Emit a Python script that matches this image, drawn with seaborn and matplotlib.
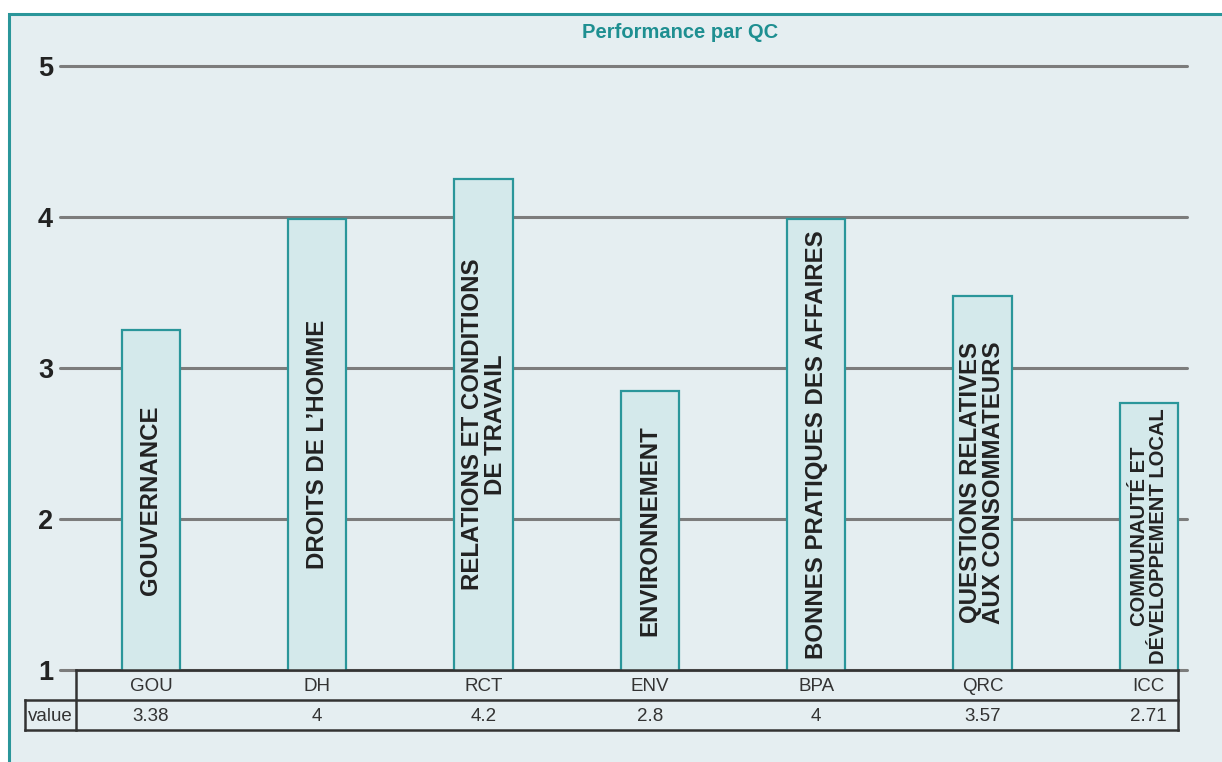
import matplotlib
matplotlib.use("Agg")
import matplotlib.pyplot as plt
import seaborn as sns
import pandas as pd
from matplotlib.patches import Rectangle
from matplotlib.transforms import blended_transform_factory

# ---------------- data ----------------
codes = ["GOU", "DH", "RCT", "ENV", "BPA", "QRC", "ICC"]
names = [
    "GOUVERNANCE",
    "DROITS DE L’HOMME",
    "RELATIONS ET CONDITIONS\nDE TRAVAIL",
    "ENVIRONNEMENT",
    "BONNES PRATIQUES DES AFFAIRES",
    "QUESTIONS RELATIVES\nAUX CONSOMMATEURS",
    "COMMUNAUTÉ ET\nDÉVELOPPEMENT LOCAL",
]
bar_heights = [3.25, 3.99, 4.25, 2.85, 3.99, 3.48, 2.77]
table_values = ["3.38", "4", "4.2", "2.8", "4", "3.57", "2.71"]
y_ticks = [1, 2, 3, 4, 5]
title = "Performance par QC"
row_header = "value"

# label font sizes (style)
label_sizes = [17.3, 17.3, 17.3, 17.3, 17.3, 17.3, 14.5]

# ---------------- style ----------------
BG = "#E5EEF1"
BAR = "#D4E9EB"
TEAL = "#2A969A"
TITLE_C = "#1E8F91"
GRID = "#7C7C7C"
DARK = "#222222"
LINE = "#333333"

sns.set_style("white")
FONT = ["Liberation Sans", "DejaVu Sans"]
plt.rcParams["font.family"] = FONT

W, H = 1222, 762
fig = plt.figure(figsize=(W / 100, H / 100), dpi=100, facecolor="white")
frame = Rectangle((8.5 / W, -0.1), 1.2, (H - 14) / H + 0.1,
                  transform=fig.transFigure, facecolor=BG,
                  edgecolor=TEAL, linewidth=2.2, zorder=-10)
fig.patches.append(frame)

ax = fig.add_axes([60 / W, 92 / H, 1127 / W, 604 / H])
ax.set_facecolor("none")
ax.set_zorder(1)

df = pd.DataFrame({"code": codes, "score": bar_heights})
sns.barplot(data=df, x="code", y="score", ax=ax, color=BAR, saturation=1,
            edgecolor=TEAL, linewidth=1.6, width=0.35, zorder=3)

ax.set_ylim(1, 5)
ax.set_xlim(-0.547, 6.23)
ax.set_yticks(y_ticks)
ax.set_yticklabels([str(t) for t in y_ticks])
ax.set_xticks([])
ax.set_xlabel("")
ax.set_ylabel("")
for s in ax.spines.values():
    s.set_visible(False)
ax.yaxis.grid(True, color=GRID, linewidth=2.2)
ax.set_axisbelow(True)
for gl in ax.get_ygridlines():
    gl.set_clip_on(False)
ax.tick_params(axis="y", length=0, pad=5, labelsize=19.5, labelcolor=DARK)
for lab in ax.get_yticklabels():
    lab.set_fontweight("bold")

# labels inside bars (centred vertically in each bar)
ymin = y_ticks[0]
for i, name in enumerate(names):
    ax.text(i, (ymin + bar_heights[i]) / 2, name, rotation=90, ha="center",
            va="center", multialignment="center", fontsize=label_sizes[i],
            fontweight="bold", color=DARK, linespacing=1.0, zorder=5)

# data table below the chart
trans = blended_transform_factory(ax.transData, ax.transAxes)
r0, r1, r2 = 0.0, -30 / 604, -60 / 604
x_vl, x_tl, x_tr = -0.758, -0.451, 6.176
segs = [
    ((x_tl, x_tr), (r0, r0)),
    ((x_vl, x_tr), (r1, r1)),
    ((x_vl, x_tr), (r2, r2)),
    ((x_tl, x_tl), (r0, r2)),
    ((x_tr, x_tr), (r0, r2)),
    ((x_vl, x_vl), (r1, r2)),
]
for xs, ys in segs:
    ax.plot(xs, ys, color=LINE, linewidth=1.8, transform=trans,
            clip_on=False, zorder=6, solid_capstyle="projecting")

for i, (c, v) in enumerate(zip(codes, table_values)):
    ax.text(i, (r0 + r1) / 2 - 0.002, c, transform=trans, ha="center",
            va="center", fontsize=13.5, color=LINE, clip_on=False)
    ax.text(i, (r1 + r2) / 2 - 0.002, v, transform=trans, ha="center",
            va="center", fontsize=13.5, color=LINE, clip_on=False)
ax.text((x_vl + x_tl) / 2, (r1 + r2) / 2 - 0.002, row_header, transform=trans,
        ha="center", va="center", fontsize=13.5, color=LINE, clip_on=False)

fig.text(680 / W, 1 - 33 / H, title, ha="center", va="center",
         fontsize=14.5, fontweight="bold", color=TITLE_C)

fig.savefig("out.png", dpi=100, facecolor="white")
